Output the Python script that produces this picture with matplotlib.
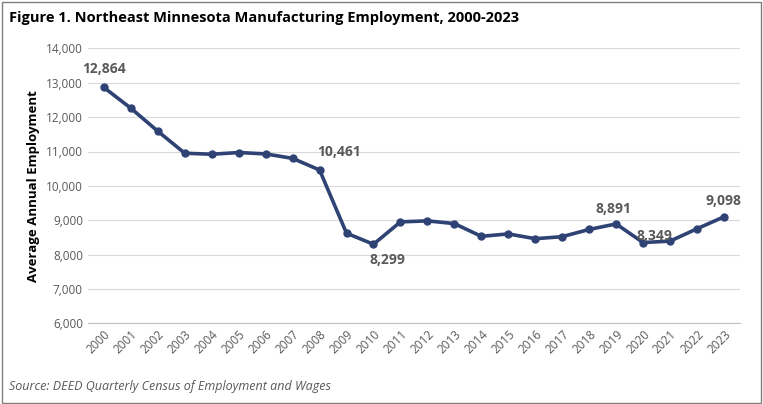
import matplotlib.pyplot as plt

years = [str(y) for y in range(2000, 2024)]
employment = [12864, 12260, 11590, 10950, 10920, 10970, 10930, 10800, 10461,
              8620, 8299, 8950, 8980, 8900, 8530, 8600, 8460, 8520, 8730,
              8891, 8349, 8390, 8750, 9098]
labeled = {"2000": (0, 8), "2008": (14, 8), "2010": (10, -6), "2019": (-2, 6),
           "2020": (8, 0), "2023": (0, 6)}

plt.rcParams["font.family"] = ["Open Sans", "DejaVu Sans"]
navy = "#2E4374"
grey = "#595959"

fig = plt.figure(figsize=(7.63, 4.04), dpi=100)
ax = fig.add_axes([0.115, 0.20, 0.855, 0.68])
x = list(range(len(years)))
ax.plot(x, employment, color=navy, linewidth=2.6, marker="o", markersize=5)

for i, yr in enumerate(years):
    if yr in labeled:
        dx, dy = labeled[yr]
        ax.annotate(f"{employment[i]:,}", (i, employment[i]), xytext=(dx, dy),
                    textcoords="offset points", ha="center",
                    va="bottom" if dy > 0 else ("top" if dy < 0 else "bottom"),
                    fontsize=10, fontweight="bold", color=grey)

ax.set_ylim(6000, 14000)
ax.set_yticks(range(6000, 14001, 1000))
ax.set_yticklabels([f"{v:,}" for v in range(6000, 14001, 1000)], fontsize=8.5, color=grey)
ax.set_xlim(-0.6, len(years) - 0.4)
ax.set_xticks(x)
ax.set_xticklabels(years, rotation=45, ha="right", rotation_mode="anchor", fontsize=8.5, color=grey)
ax.grid(axis="y", color="#d9d9d9", linewidth=0.8)
ax.set_axisbelow(True)
for s in ["top", "right", "left"]:
    ax.spines[s].set_visible(False)
ax.spines["bottom"].set_color("#bfbfbf")
ax.tick_params(length=0)
ax.set_ylabel("Average Annual Employment", fontsize=9.5, fontweight="bold")

fig.text(0.012, 0.945, "Figure 1. Northeast Minnesota Manufacturing Employment, 2000-2023",
         fontsize=10.5, fontweight="bold")
fig.text(0.012, 0.035, "Source: DEED Quarterly Census of Employment and Wages",
         fontsize=9, style="italic", color=grey)
fig.patches.append(plt.Rectangle((0.002, 0.003), 0.995, 0.993, transform=fig.transFigure,
                                 fill=False, edgecolor="#7f7f7f", linewidth=1))
fig.savefig("out.png", dpi=100)
